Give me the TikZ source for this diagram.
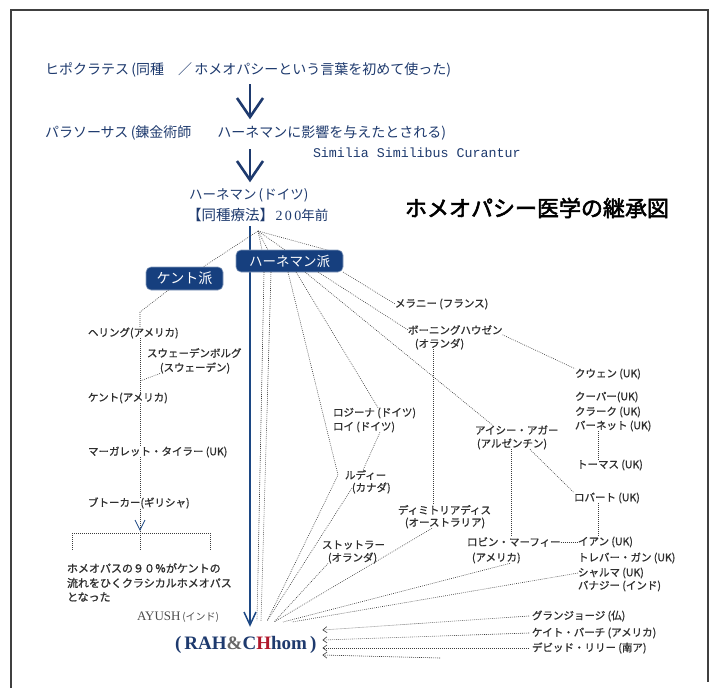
\documentclass[tikz,border=0pt]{standalone}
\usepackage{fontspec}
\usetikzlibrary{arrows.meta}
\newfontfamily\jp{Noto Sans CJK JP}
\newfontfamily\jpb[FakeBold=1]{Noto Sans CJK JP}
\newfontfamily\jpt[FakeBold=2.5]{Noto Sans CJK JP}
\newfontfamily\monof{Liberation Mono}
\newfontfamily\serf{Liberation Serif}
\definecolor{navy}{HTML}{1E3A6E}
\definecolor{boxnavy}{HTML}{163F7E}
\definecolor{linenavy}{HTML}{1C4784}
\definecolor{lbl}{HTML}{2E2E2E}
\definecolor{dotc}{HTML}{3C3C3C}
\definecolor{rahred}{HTML}{B0182C}
\begin{document}
\begin{tikzpicture}[x=1pt,y=-1pt,
  every node/.style={inner sep=0pt, outer sep=0pt},
  toptxt/.style={anchor=west, text=navy, font=\jp\fontsize{14}{16}\selectfont},
  lab/.style={anchor=west, text=lbl, font=\jpb\fontsize{10.5}{12}\selectfont},
  pill/.style={fill=boxnavy, draw=boxnavy!50, line width=0.6pt, rounded corners=5pt, text=white, font=\jp\fontsize{13.5}{15}\selectfont, minimum height=22pt},
  dots/.style={draw=dotc, line width=0.6pt, dash pattern=on 0.8pt off 1.2pt},
  bigv/.style={draw=navy, line width=2.6pt},
  sarrow/.style={dots, -{Straight Barb[length=4pt,width=6pt,line width=0.6pt]}}
]
\useasboundingbox (0,0) rectangle (711,688);
\fill[white] (0,0) rectangle (711,688);
% frame
\draw[line width=1.1pt, black!75] (11,688) -- (11,10) -- (708,10) -- (708,682);

% top texts
\node[toptxt] (hippo) at (45,70) {ヒポクラテス\,(同種　／\,ホメオパシーという言葉を初めて使った)};
\node[toptxt] (para) at (45,133) {パラソーサス\,(錬金術師\hspace{26pt}ハーネマンに影響を与えたとされる)};
\node[anchor=west, text=navy, font=\monof\fontsize{13.3}{15}\selectfont] (simil) at (313,153) {Similia Similibus Curantur};

\coordinate (a1s) at (250,84);  \coordinate (a1e) at (250,117);
\coordinate (a2s) at (250,149); \coordinate (a2e) at (250,180);
\draw[bigv] (a1s) -- (a1e);
\draw[bigv] (a1e) ++(-13,-19) -- (a1e) -- ++(13,-19);
\draw[bigv] (a2s) -- (a2e);
\draw[bigv] (a2e) ++(-13,-19) -- (a2e) -- ++(13,-19);

\node[toptxt, font=\jp\fontsize{13.5}{15}\selectfont] (hahn1) at (189,195) {ハーネマン\,(ドイツ)};
\node[anchor=west, text=navy] (hahn2) at (187,215) {{\jp\fontsize{14.5}{16}\selectfont 【同種療法】}\,{\serf\fontsize{14}{16}\selectfont 2\,0\,0}{\jp\fontsize{13.5}{15}\selectfont 年前}};

\node[anchor=west, text=black, font=\jpt\fontsize{22}{24}\selectfont] (title) at (405,208) {ホメオパシー医学の継承図};

% main vertical line
\coordinate (mtop) at (250,226); \coordinate (mbot) at (250,625);
\draw[draw=linenavy, line width=2.2pt] (mtop) -- (mbot);
\draw[draw=linenavy, line width=1.5pt] (mbot) ++(-6,-13) -- (mbot) -- ++(6,-13);

% convergence points
\coordinate (hp) at (258,231);
\coordinate (c1) at (257,620);
\coordinate (c2) at (261,621);
\coordinate (c3) at (267,621);
\coordinate (c4) at (274,622);
\coordinate (c5) at (283,622);
\coordinate (c6) at (292,622);

% lines from Hahnemann (drawn before boxes)
\draw[dots] (hp) -- (262,250);
\draw[dots] (hp) -- (268,250);
\draw[dots] (hp) -- (285,250);
\draw[dots] (hp) -- (331,251);

% labels right
\node[lab] (mel) at (395,304) {メラニー (フランス)};
\node[lab] (boe1) at (408,330) {ボーニングハウゼン};
\node[lab] (boe2) at (415,344) {(オランダ)};
\node[lab] (qu) at (575,374) {クウェン (UK)};
\node[lab] (coop1) at (575,397) {クーパー(UK)};
\node[lab] (coop2) at (575,412) {クラーク (UK)};
\node[lab] (coop3) at (575,426) {バーネット (UK)};
\node[lab] (tho) at (577,465) {トーマス (UK)};
\node[lab] (rob) at (574,498) {ロバート (UK)};
\node[lab] (ros1) at (333,413) {ロジーナ (ドイツ)};
\node[lab] (ros2) at (333,427) {ロイ (ドイツ)};
\node[lab] (ais1) at (475,430) {アイシー・アガー};
\node[lab] (ais2) at (477,444) {(アルゼンチン)};
\node[lab] (rud1) at (345,475) {ルディー};
\node[lab] (rud2) at (352,488) {(カナダ)};
\node[lab] (dim1) at (398,510) {ディミトリアディス};
\node[lab] (dim2) at (405,523) {(オーストラリア)};
\node[lab] (sto1) at (322,545) {ストットラー};
\node[lab] (sto2) at (328,558) {(オランダ)};
\node[lab] (robin1) at (467,542) {ロビン・マーフィー};
\node[lab] (robin2) at (472,558) {(アメリカ)};
\node[lab] (ian1) at (578,542) {イアン (UK)};
\node[lab] (ian2) at (578,558) {トレバー・ガン (UK)};
\node[lab] (ian3) at (578,573) {シャルマ (UK)};
\node[lab] (ian4) at (578,586) {バナジー (インド)};
\node[lab] (gr) at (532,616) {グランジョージ (仏)};
\node[lab] (ka) at (532,633) {ケイト・バーチ (アメリカ)};
\node[lab] (da) at (532,648) {デビッド・リリー (南ア)};

% labels left (Kent)
\node[lab] (her) at (88,333) {ヘリング(アメリカ)};
\node[lab] (swe1) at (147,353) {スウェーデンボルグ};
\node[lab] (swe2) at (160,368) {(スウェーデン)};
\node[lab] (kent) at (88,398) {ケント(アメリカ)};
\node[lab] (marg) at (88,452) {マーガレット・タイラー (UK)};
\node[lab] (but) at (88,503) {ブトーカー(ギリシャ)};
\node[lab, font=\jpb\fontsize{11}{13}\selectfont] (note1) at (67,568) {ホメオパスの９０％がケントの};
\node[lab, font=\jpb\fontsize{11}{13}\selectfont] (note2) at (67,583) {流れをひくクラシカルホメオパス};
\node[lab, font=\jpb\fontsize{11}{13}\selectfont] (note3) at (67,597) {となった};

\node[anchor=west, text=black!70] (ayush) at (137,617) {{\serf\fontsize{13}{15}\selectfont AYUSH}\,{\jp\fontsize{10}{12}\selectfont (インド)}};
\node[anchor=west] (rah) at (175,645) {\serf\bfseries\fontsize{19}{21}\selectfont\textcolor{navy}{(\,RAH}\textcolor{black!60}{\&}\textcolor{navy}{C}\textcolor{rahred}{H}\textcolor{navy}{hom\,)}};

% boxes
\node[pill, minimum width=107pt] (hha) at (289.5,261) {ハーネマン派};
\node[pill, minimum width=77pt, minimum height=23pt, font=\jp\fontsize{14}{15}\selectfont] (kha) at (184.5,278.5) {ケント派};

\draw[dots] (hp) -- ([xshift=-20pt]kha.north east);

% Hahnemann school fan
\draw[dots] ([xshift=28pt]hha.south west) -- (c1);
\draw[dots] ([xshift=35pt]hha.south west) -- (c2);
\draw[dots] ([xshift=52pt]hha.south west) -- ([xshift=-7pt]rud1.west) -- (c3);
\draw[dots] ([xshift=60pt]hha.south west) -- ([xshift=45pt]ros1.north west);
\draw[dots] ([xshift=69pt]hha.south west) -- ([xshift=18pt]ais1.north west);
\draw[dots] ([xshift=82pt]hha.south west) -- (boe1.west);
\draw[dots] (hha.south east) -- (mel.west);

\coordinate (dx) at (433,0);
\coordinate (ax) at (511,0);
\coordinate (tx) at (598,0);
\draw[dots] (boe1.south east) -- (qu.north west);
\draw[dots] (boe2.south -| dx) -- (dim1.north -| dx);
\draw[dots] (ais2.south -| ax) -- (robin1.north -| ax);
\draw[dots] ([xshift=-17pt]ais2.south east) -- (rob.north west);
\draw[dots] (coop3.south -| tx) -- (tho.north -| tx);
\draw[dots] (rob.south -| tx) -- (ian1.north -| tx);
\draw[dots] (robin1.east) -- (ian1.west);
\draw[dots] ([xshift=-15pt]ros2.south east) -- ([xshift=18pt]rud1.north west);
\draw[dots] (rud2.west) -- (c3);
\draw[dots] (sto2.south west) -- (c4);
\draw[dots] ([xshift=27pt]dim2.south west) -- (c4);
\draw[dots] ([xshift=38pt]robin2.south west) -- (c5);
\draw[dots] (ian3.west) -- (c6);

% bottom arrows into RAH&CHhom (yshift is in canvas direction: + is up)
\coordinate (d4) at (440,658);
\draw[sarrow] ([xshift=-3pt]gr.west) -- ([xshift=6pt,yshift=15pt]rah.east);
\draw[sarrow] ([xshift=-3pt]ka.west) -- ([xshift=6pt,yshift=5pt]rah.east);
\draw[sarrow] ([xshift=-3pt]da.west) -- ([xshift=6pt,yshift=-3pt]rah.east);
\draw[sarrow] (d4) -- ([xshift=6pt,yshift=-10pt]rah.east);

% Kent school chain
\coordinate (kv) at (140,312);
\coordinate (kj) at (140,381);
\coordinate (bv) at (140,530);
\coordinate (bm) at (140,533);
\coordinate (bl) at (72,533);
\coordinate (br) at (210,533);
\draw[dots] ([xshift=-16pt]kha.south) -- (kv) -- (her.north -| kv);
\draw[dots] (her.south -| kv) -- (kent.north -| kv);
\draw[dots] (swe2.south west) -- (kj);
\draw[dots] (kent.south -| kv) -- (marg.north -| kv);
\draw[dots] (marg.south -| kv) -- (but.north -| kv);
\draw[dots] (but.south -| kv) -- (bm);
\draw[draw=linenavy, line width=0.8pt] (bv) ++(-5,-10) -- (bv) -- ++(5,-10);
\draw[dots] (bl) -- (br);
\draw[dots] (bl) -- ++(0,17);
\draw[dots] (bm) -- ++(0,17);
\draw[dots] (br) -- ++(0,17);
\end{tikzpicture}
\end{document}
